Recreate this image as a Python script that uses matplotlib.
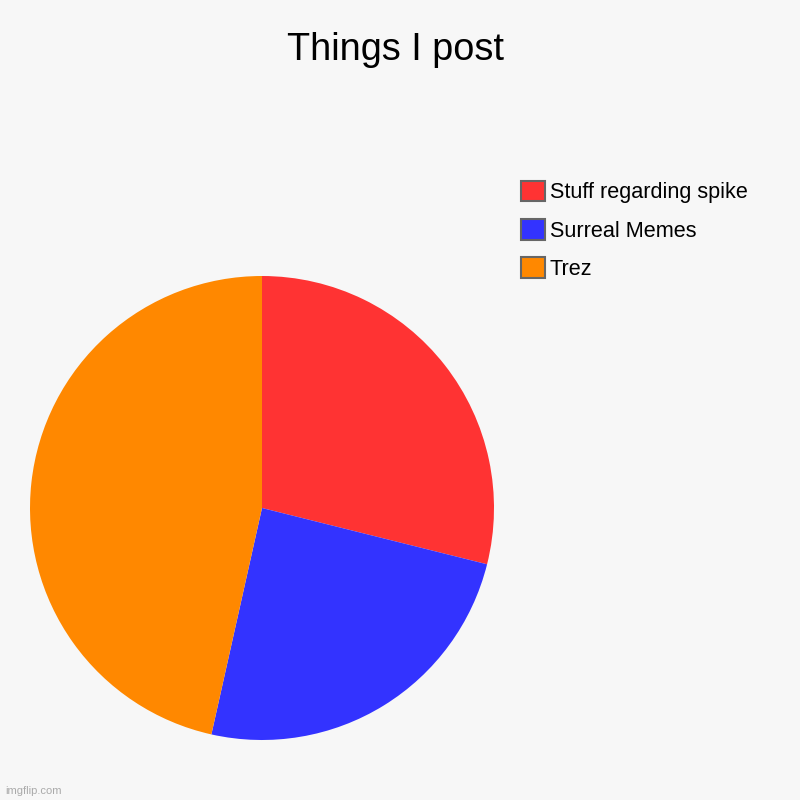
import matplotlib.pyplot as plt
from matplotlib.patches import Patch

labels = ["Stuff regarding spike", "Surreal Memes", "Trez"]
values = [28.9, 24.6, 46.5]
colors = ["#ff3333", "#3333ff", "#ff8800"]

plt.rcParams['font.family'] = ['Liberation Sans', 'DejaVu Sans']

fig = plt.figure(figsize=(8, 8), dpi=100, facecolor='#f7f7f7')
ax = fig.add_axes([0.0375, 0.075, 0.58, 0.58])
ax.set_facecolor('#f7f7f7')
ax.pie(values, colors=colors, startangle=90, counterclock=False, radius=1)
ax.set_xlim(-1, 1)
ax.set_ylim(-1, 1)
ax.set_aspect('equal')
ax.axis('off')

fig.text(0.494, 0.938, "Things I post", ha='center', va='center', fontsize=27.3)

handles = [Patch(facecolor=c, edgecolor='#666666', linewidth=1.5) for c in colors]
fig.legend(handles, labels, loc='upper left', bbox_to_anchor=(0.64, 0.785),
           frameon=False, fontsize=15.6, handlelength=1.1, handleheight=1.1,
           handletextpad=0.25, labelspacing=0.72, borderaxespad=0)

fig.text(0.006, 0.007, "imgflip.com", fontsize=8, color='#aaaaaa')

fig.savefig("out.png", dpi=100, facecolor=fig.get_facecolor())
